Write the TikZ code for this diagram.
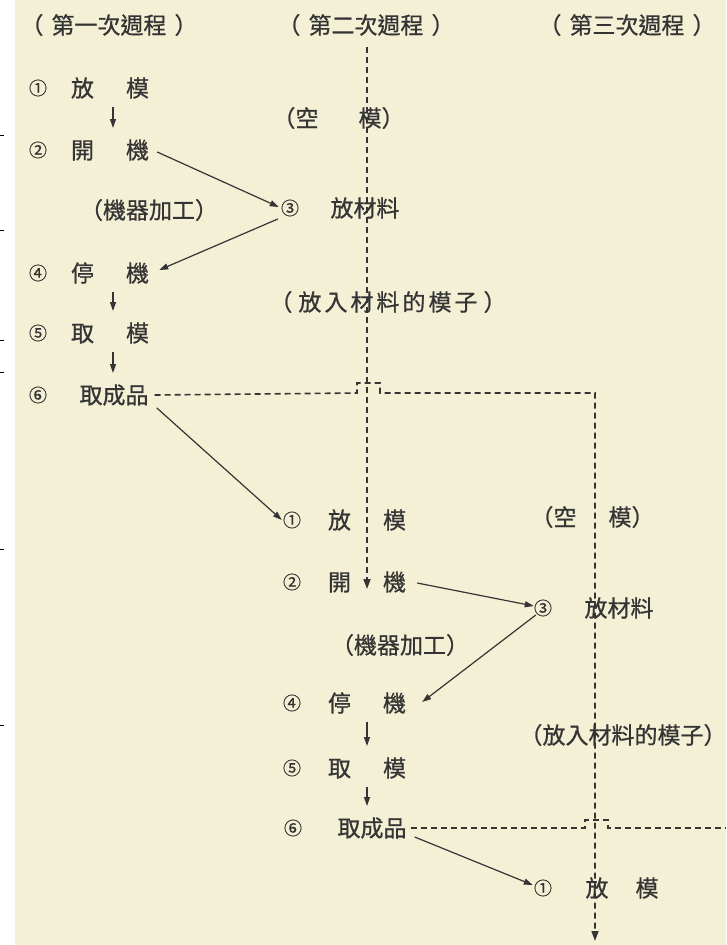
\documentclass[tikz,border=0pt]{standalone}
\usepackage{fontspec}
\newfontfamily\cjk[FakeBold=0.8]{Noto Sans CJK TC}
\usetikzlibrary{arrows.meta,calc}
\definecolor{bg}{RGB}{244,240,214}
\definecolor{ink}{RGB}{52,52,52}
\begin{document}
\begin{tikzpicture}[x=1pt,y=-1pt,
  lbl/.style={inner sep=0pt, text=ink, font=\cjk\fontsize{23}{23}\selectfont},
  num/.style={inner sep=0pt, text=ink, font=\cjk\fontsize{18}{18}\selectfont},
  arr/.style={draw=ink, line width=1.2pt, -{Triangle[length=9pt,width=6pt]}},
  dline/.style={draw=ink, line width=1.6pt, dash pattern=on 6pt off 4pt},
  dtip/.style={-{Triangle[length=10pt,width=7pt]}},
  tick/.style={draw=black, line width=0.9pt}
]
\useasboundingbox (0,0) rectangle (726,945);
\fill[bg] (0,0) rectangle (726,945);
\fill[white] (0,0) rectangle (15,945);
\foreach \yy in {135,230,340,372,549,725} \draw[tick] (0,\yy) -- (4,\yy);

% headers
\node[lbl] (h1) at (109,25) {（\hspace{8pt}第一次週程\hspace{8pt}）};
\node[lbl] (h2) at (366,25) {（\hspace{8pt}第二次週程\hspace{8pt}）};
\node[lbl] (h3) at (627,25) {（\hspace{8pt}第三次週程\hspace{8pt}）};

% column 1
\node[num] (n1a) at (38,88) {①};
\node[lbl] (t1a) at (110,88) {放\hspace{32pt}模};
\node[num] (n2a) at (38,150) {②};
\node[lbl] (t2a) at (110,150) {開\hspace{32pt}機};
\node[num] (n3a) at (290,208) {③};
\node[lbl] (t3a) at (365,208) {放材料};
\node[lbl] (m1) at (149,210) {（機器加工）};
\node[num] (n4a) at (38,273) {④};
\node[lbl] (t4a) at (110,273) {停\hspace{32pt}機};
\node[num] (n5a) at (38,333) {⑤};
\node[lbl] (t5a) at (110,333) {取\hspace{32pt}模};
\node[num] (n6a) at (38,395) {⑥};
\node[lbl] (t6a) at (114,395) {取成品};
\node[lbl] (k1) at (338.5,118) {（空\hspace{40pt}模）};
\node[lbl] (p1) at (388,302) {（\hspace{6pt}放\hspace{3pt}入\hspace{3pt}材\hspace{3pt}料\hspace{3pt}的\hspace{3pt}模\hspace{3pt}子\hspace{6pt}）};

% column 2
\node[num] (n1b) at (292,520) {①};
\node[lbl] (t1b) at (367,520) {放\hspace{32pt}模};
\node[num] (n2b) at (292,582) {②};
\node[lbl] (t2b) at (367,582) {開\hspace{32pt}機};
\node[num] (n3b) at (543,608) {③};
\node[lbl] (t3b) at (619,608) {放材料};
\node[lbl] (m2) at (400,645) {（機器加工）};
\node[num] (n4b) at (292,703) {④};
\node[lbl] (t4b) at (367,703) {停\hspace{32pt}機};
\node[num] (n5b) at (292,768) {⑤};
\node[lbl] (t5b) at (367,768) {取\hspace{32pt}模};
\node[num] (n6b) at (293,828) {⑥};
\node[lbl] (t6b) at (372,828) {取成品};
\node[lbl] (k2) at (592.5,517) {（空\hspace{32pt}模）};
\node[lbl] (p2) at (623,735) {（放入材料的模子）};

% column 3
\node[num] (n1c) at (543,888) {①};
\node[lbl] (t1c) at (622,888) {放\hspace{27pt}模};

% dashed flow of moulds
\coordinate (v1top) at (367,47);
\coordinate (v1end) at (367,589);
\draw[dline,dtip] (v1top) -- (v1end);
\coordinate (v2end) at (595,941);
\draw[dline,dtip] ([xshift=6pt]t6a.east) -- (357,393) -- (357,383) -- (380,383) -- (380,393) -- (595,393) -- (v2end);
\coordinate (h2end) at (726,828);
\draw[dline] ([xshift=4pt]t6b.east) -- (585,828) -- (585,820) -- (608,820) -- (608,828) -- (h2end);

% solid arrows, first cycle
\draw[arr] ($(t1a)+(3,19)$) -- ($(t2a)+(3,-22)$);
\draw[arr] ($(t2a.east)+(8,2)$) -- ($(n3a.west)+(-2,-1)$);
\draw[arr] ($(n3a.west)+(-3,11)$) -- ($(t4a.east)+(10,-3)$);
\draw[arr] ($(t4a)+(3,19)$) -- ($(t5a)+(3,-22)$);
\draw[arr] ($(t5a)+(3,19)$) -- ($(t6a)+(-1,-22)$);
\draw[arr] ($(t6a.south east)+(8,2)$) -- ($(n1b.west)+(-1,0)$);

% solid arrows, second cycle
\draw[arr] ($(t2b.east)+(11,1)$) -- ($(n3b.west)+(0,-2)$);
\draw[arr] ($(n3b.west)+(2,7)$) -- ($(t4b.east)+(16,-1)$);
\draw[arr] ($(t4b)+(0,19)$) -- ($(t5b)+(0,-22)$);
\draw[arr] ($(t5b)+(0,19)$) -- ($(t6b)+(-5,-22)$);
\draw[arr] ($(t6b.east)+(8,9)$) -- ($(n1c.west)+(-1,-3)$);
\end{tikzpicture}
\end{document}
